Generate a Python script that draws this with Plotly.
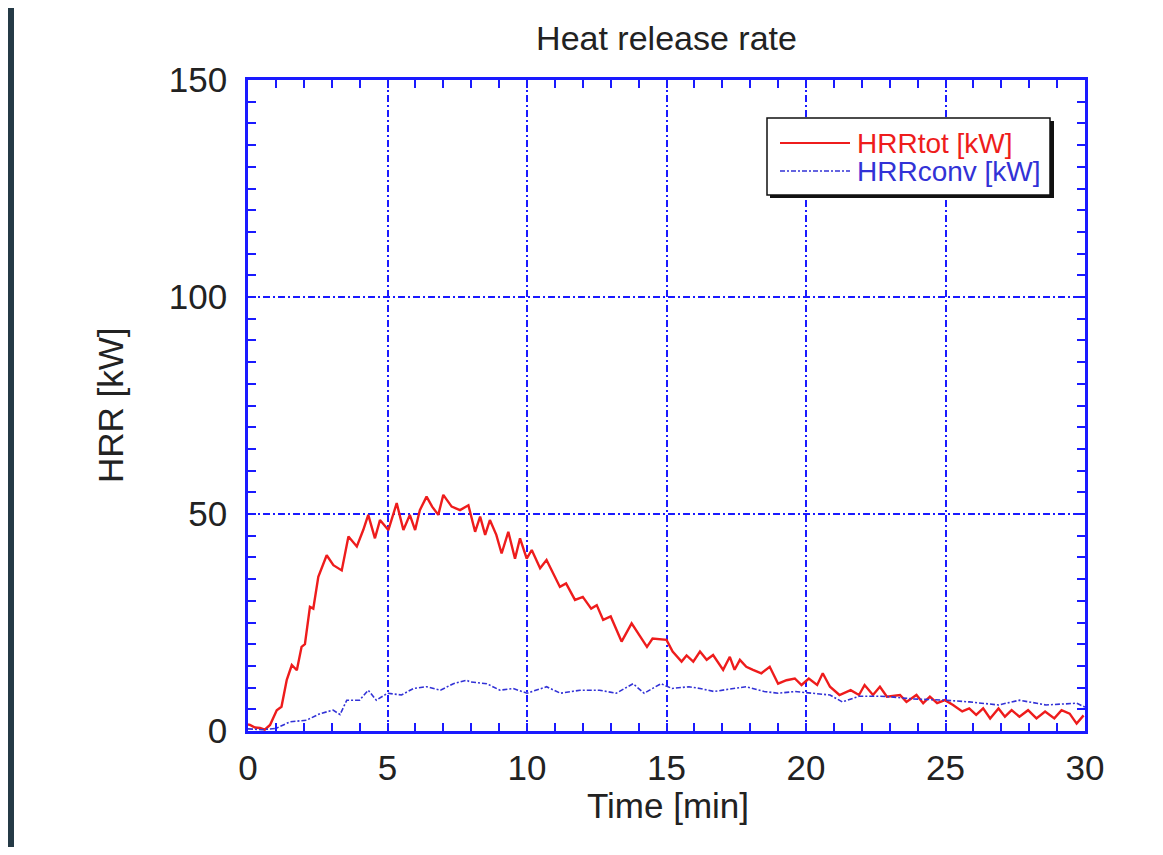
import plotly.graph_objects as go

# HRRtot [kW]
T_TOT = [0.0, 0.07, 0.25, 0.43, 0.6, 0.79, 1.03, 1.2, 1.39, 1.57, 1.75, 1.92, 2.04,
         2.22, 2.34, 2.52, 2.82, 3.06, 3.36, 3.6, 3.9, 4.13, 4.31, 4.55, 4.73, 5.03,
         5.33, 5.57, 5.8, 5.99, 6.16, 6.4, 6.6, 6.82, 7.0, 7.3, 7.6, 7.9, 8.14, 8.32,
         8.5, 8.67, 8.9, 9.09, 9.33, 9.57, 9.75, 9.99, 10.17, 10.47, 10.7, 11.18,
         11.4, 11.72, 12.0, 12.3, 12.5, 12.73, 13.0, 13.39, 13.75, 14.05, 14.3, 14.5,
         15.0, 15.22, 15.54, 15.72, 15.96, 16.2, 16.44, 16.67, 17.03, 17.27, 17.44,
         17.63, 17.86, 18.1, 18.4, 18.7, 19.0, 19.3, 19.6, 19.84, 20.1, 20.4, 20.6,
         20.86, 21.2, 21.6, 21.9, 22.1, 22.4, 22.65, 22.9, 23.37, 23.6, 23.96, 24.2,
         24.44, 24.7, 24.98, 25.27, 25.6, 25.85, 26.1, 26.35, 26.6, 26.9, 27.13,
         27.37, 27.65, 27.96, 28.26, 28.57, 28.9, 29.16, 29.45, 29.7, 29.95]
HRR_TOT = [1.5, 1.4, 0.8, 0.7, 0.3, 1.4, 4.8, 5.6, 11.8, 15.2, 14.0, 19.4, 20.0,
           28.6, 28.2, 35.5, 40.5, 38.2, 37.0, 44.8, 42.5, 46.3, 49.8, 44.4, 48.6, 46.3,
           52.5, 46.3, 49.8, 46.3, 50.9, 54.0, 51.7, 49.8, 54.4, 51.7, 50.9, 52.0, 45.9,
           49.4, 45.2, 48.6, 45.2, 40.9, 45.9, 39.7, 44.4, 39.7, 41.7, 37.5, 39.4, 33.2,
           34.0, 30.2, 30.9, 28.2, 29.0, 25.6, 26.4, 20.6, 24.8, 21.7, 19.4, 21.3,
           21.0, 18.3, 16.0, 17.4, 16.0, 18.3, 16.4, 17.5, 14.1, 17.1, 14.1,
           16.4, 14.8, 14.1, 13.3, 14.8, 10.9, 11.7, 12.1, 10.6, 12.1, 10.6, 13.3,
           10.2, 8.3, 9.4, 8.3, 10.6, 8.3, 10.2, 7.9, 8.3, 6.7, 8.3, 6.4,
           7.9, 6.4, 7.1, 6.0, 4.5, 5.2, 3.7, 5.2, 2.9, 5.2, 3.3,
           4.8, 3.3, 4.8, 2.9, 4.5, 2.9, 4.8, 4.0, 1.7, 3.6]

# HRRconv [kW]
T_CONV = [0.0, 0.5, 1.0, 1.5, 2.1, 2.58, 3.05, 3.3, 3.54, 4.0, 4.31, 4.6, 5.0, 5.5,
          5.93, 6.4, 6.9, 7.36, 7.84, 7.96, 8.56, 9.03, 9.5, 10.0, 10.7, 11.2, 11.9,
          12.6, 13.2, 13.8, 14.2, 14.8, 15.2, 15.8, 16.2, 16.7, 17.4, 17.86, 18.5,
          19.0, 19.6, 20.2, 20.86, 21.3, 21.9, 22.65, 23.0, 23.8, 25.0, 25.85, 26.9,
          27.65, 28.6, 29.7, 30.0]
HRR_CONV = [0.5, 0.3, 0.6, 2.1, 2.5, 4.0, 4.8, 3.8, 7.1, 7.1, 9.4, 7.1, 8.7, 8.3,
            9.8, 10.2, 9.4, 10.9, 11.7, 11.3, 10.9, 9.4, 9.8, 8.7, 10.2, 8.7, 9.4,
            9.4, 8.7, 10.9, 8.7, 10.9, 9.8, 10.2, 9.8, 9.1, 9.8, 10.2, 9.1,
            8.7, 9.1, 8.7, 8.3, 6.7, 8.0, 8.0, 7.9, 7.4, 7.1, 6.7, 6.0,
            7.1, 6.0, 6.4, 5.5]

X_TICKS = [0, 5, 10, 15, 20, 25, 30]
Y_TICKS = [0, 50, 100, 150]

BLUE = "#1a1aff"
RED = "#ee1c1c"
CONV = "#3232d6"
TXT = "#222222"
FONT = "Arial, Liberation Sans, sans-serif"

# the page has an 8px body margin, so the figure sits at (8, 8) in the window
OFF = 8
W, H = 1163 - OFF, 855 - 2 * OFF
# plot area in window pixels: x 248..1085, y 80..731
L, R, T, B = 248, 1085, 80, 731


def px(x):
    return (x - L) / (R - L)


def py(y):
    return (B - y) / (B - T)


fig = go.Figure()
fig.add_trace(go.Scatter(
    x=T_TOT, y=HRR_TOT, name="HRRtot [kW]", mode="lines",
    line=dict(color=RED, width=2.4), showlegend=False,
))
fig.add_trace(go.Scatter(
    x=T_CONV, y=HRR_CONV, name="HRRconv [kW]", mode="lines",
    line=dict(color=CONV, width=1.6, dash="5px,2px,2px,2px"), showlegend=False,
))

axis_common = dict(
    showline=True, linecolor=BLUE, linewidth=2.5, mirror="allticks",
    ticks="inside", ticklen=8, tickwidth=1.8, tickcolor=BLUE,
    showgrid=True, gridcolor=BLUE, gridwidth=1.6, griddash="7px,3px,2px,3px",
    zeroline=False, tickfont=dict(family=FONT, size=35, color=TXT),
)

fig.update_layout(
    width=W, height=H,
    margin=dict(l=L - OFF, r=W + OFF - R, t=T - OFF, b=H + OFF - B),
    paper_bgcolor="white",
    plot_bgcolor="white",
    showlegend=False,
    title=dict(text="Heat release rate", x=0.5, xref="paper", xanchor="center",
               y=1 - (38 - OFF) / H, yref="container", yanchor="middle",
               font=dict(family=FONT, size=34, color=TXT)),
    xaxis=dict(range=[0, 30], tickvals=X_TICKS, ticklabelstandoff=4,
               minor=dict(dtick=1, ticks="inside", ticklen=8, tickwidth=1.8,
                          tickcolor=BLUE, showgrid=False),
               **axis_common),
    yaxis=dict(range=[0, 150], tickvals=Y_TICKS, ticklabelstandoff=11,
               minor=dict(dtick=5, ticks="inside", ticklen=8, tickwidth=1.8,
                          tickcolor=BLUE, showgrid=False),
               **axis_common),
)

shapes = [
    # dark frame strip on the left edge
    dict(type="rect", xref="paper", yref="paper", layer="below",
         x0=px(OFF), x1=px(14), y0=py(OFF), y1=py(900),
         fillcolor="#253a46", line=dict(width=0)),
    # legend shadow and box
    dict(type="rect", xref="paper", yref="paper",
         x0=px(770), x1=px(1054), y0=py(121), y1=py(198),
         fillcolor="#111111", line=dict(width=0)),
    dict(type="rect", xref="paper", yref="paper",
         x0=px(767), x1=px(1050), y0=py(118), y1=py(195),
         fillcolor="white", line=dict(color="#111111", width=1.5)),
    dict(type="line", xref="paper", yref="paper",
         x0=px(780), x1=px(850), y0=py(143), y1=py(143),
         line=dict(color=RED, width=2)),
    dict(type="line", xref="paper", yref="paper",
         x0=px(780), x1=px(850), y0=py(171), y1=py(171),
         line=dict(color=CONV, width=1.5, dash="5px,2px,2px,2px")),
]

annotations = [
    dict(text="HRRtot [kW]", x=px(855), y=py(143), xref="paper", yref="paper",
         xanchor="left", yanchor="middle", showarrow=False,
         font=dict(family=FONT, size=28, color=RED)),
    dict(text="HRRconv [kW]", x=px(855), y=py(171), xref="paper", yref="paper",
         xanchor="left", yanchor="middle", showarrow=False,
         font=dict(family=FONT, size=28, color=CONV)),
    dict(text="Time [min]", x=px(668), y=py(805), xref="paper", yref="paper",
         xanchor="center", yanchor="middle", showarrow=False,
         font=dict(family=FONT, size=35, color=TXT)),
    dict(text="HRR [kW]", x=px(110), y=py(405), xref="paper", yref="paper",
         xanchor="center", yanchor="middle", showarrow=False, textangle=-90,
         font=dict(family=FONT, size=35, color=TXT)),
]

fig.update_layout(shapes=shapes, annotations=annotations)

fig.write_html("out.html")
